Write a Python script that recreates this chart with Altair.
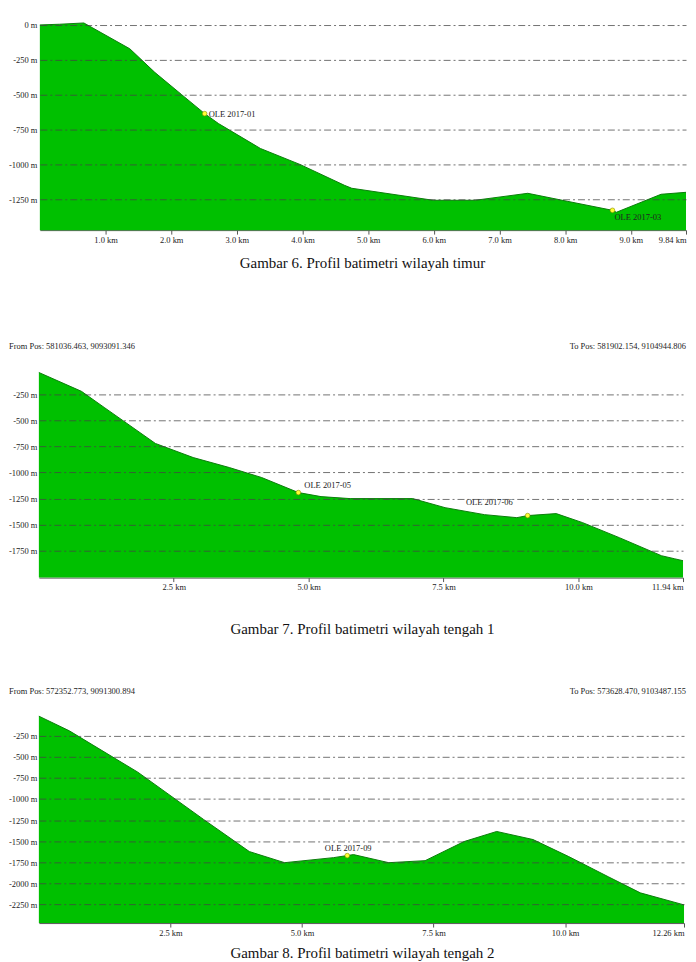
import altair as alt
import pandas as pd

# ---------------- data ----------------
# Panel 1 (Gambar 6) : distance (km), depth (m)
km1 = [0.0, 0.30, 0.67, 1.37, 1.75, 2.16, 2.51, 2.72, 3.36, 3.96, 4.64, 4.75, 5.99, 6.63, 7.43, 8.03, 8.72, 8.78, 9.46, 9.84]
m1 = [0, 5, 14, -171, -340, -500, -636, -707, -886, -1000, -1150, -1171, -1257, -1257, -1207, -1264, -1329, -1343, -1214, -1200]
mk1_name = ["OLE 2017-01", "OLE 2017-03"]
mk1_km = [2.51, 8.72]
mk1_m = [-636, -1329]

# Panel 2 (Gambar 7)
km2 = [0.0, 0.79, 1.21, 2.16, 2.86, 3.53, 4.13, 4.81, 5.23, 5.77, 6.93, 7.53, 8.26, 8.86, 9.06, 9.59, 10.08, 10.76, 11.54, 11.78, 11.94]
m2 = [-40, -221, -375, -721, -856, -952, -1048, -1192, -1231, -1250, -1250, -1337, -1404, -1433, -1413, -1394, -1481, -1625, -1798, -1827, -1846]
mk2_name = ["OLE 2017-05", "OLE 2017-06"]
mk2_km = [4.81, 9.06]
mk2_m = [-1192, -1413]

# Panel 3 (Gambar 8)
km3 = [0.0, 0.58, 1.88, 3.13, 4.00, 4.67, 5.60, 5.98, 6.65, 7.34, 8.08, 8.70, 9.39, 10.07, 10.82, 11.43, 12.26]
m3 = [-15, -190, -681, -1243, -1625, -1757, -1697, -1661, -1757, -1733, -1506, -1386, -1482, -1685, -1924, -2116, -2259]
mk3_name = ["OLE 2017-09"]
mk3_km = [5.86]
mk3_m = [-1673]

xticks1 = [1, 2, 3, 4, 5, 6, 7, 8, 9, 9.84]
xticks2 = [2.5, 5.0, 7.5, 10.0, 11.94]
xticks3 = [2.5, 5.0, 7.5, 10.0, 12.26]
yticks1 = [0, -250, -500, -750, -1000, -1250]
yticks2 = [-250, -500, -750, -1000, -1250, -1500, -1750]
yticks3 = [-250, -500, -750, -1000, -1250, -1500, -1750, -2000, -2250]

ydom1 = [-1471, 35]
ydom2 = [-2008, -21]
ydom3 = [-2475, -13]

from2 = "From Pos: 581036.463, 9093091.346"
to2 = "To Pos: 581902.154, 9104944.806"
from3 = "From Pos: 572352.773, 9091300.894"
to3 = "To Pos: 573628.470, 9103487.155"
captions = [
    "Gambar 6. Profil batimetri wilayah timur",
    "Gambar 7. Profil batimetri wilayah tengah 1",
    "Gambar 8. Profil batimetri wilayah tengah 2",
]

# ---------------- layout (view pixels) ----------------
W = 650
H = 907
FONT = "Liberation Serif"
GREEN = "#00c000"
LINE = "#0b7d0b"

p1_rng = [211, 0]
p2_rng = [560, 352]
p3_rng = [907, 699]


def panel(km, m, ydom, yrng, xmax, xrng, xticks, yticks, markers, label_styles):
    df = pd.DataFrame({"km": km, "m": m})
    xsc = alt.Scale(domain=[0, xmax], range=xrng, nice=False, zero=False)
    ysc = alt.Scale(domain=ydom, range=yrng, nice=False, zero=False)
    last = xticks[-1]
    xaxis = alt.Axis(
        orient="bottom", offset=yrng[0] - H, values=xticks, title=None,
        labelExpr=f"datum.value == {last} ? '{last} km' : format(datum.value, '.1f') + ' km'",
        grid=False, domainColor="#555", tickColor="#555", tickSize=4,
        labelFont=FONT, labelFontSize=8.5, labelColor="#222", labelPadding=1,
        labelOverlap=False,
    )
    yaxis = alt.Axis(
        orient="left", values=yticks, title=None, labelExpr="datum.value + ' m'",
        grid=True, gridDash=[7, 3, 2, 3], gridColor="#444", gridOpacity=0.75, gridWidth=1,
        domain=False, ticks=False, labelFont=FONT, labelFontSize=8.5, labelColor="#222",
        labelPadding=2, zindex=1,
    )
    area = alt.Chart(df).mark_area(
        color=GREEN, opacity=1, line={"color": LINE, "strokeWidth": 1}
    ).encode(
        x=alt.X("km:Q", scale=xsc, axis=xaxis),
        y=alt.Y("m:Q", scale=ysc, axis=yaxis),
        y2=alt.datum(ydom[0]),
    )
    mdf = pd.DataFrame({"km": markers[1], "m": markers[2], "name": markers[0]})
    pts = alt.Chart(mdf).mark_point(
        filled=True, fill="#ffff33", stroke="#888800", strokeWidth=0.6, size=22, opacity=1, shape="circle"
    ).encode(x="km:Q", y="m:Q")
    layers = [area, pts]
    for name, st in zip(markers[0], label_styles):
        t = alt.Chart(mdf).transform_filter(alt.datum.name == name).mark_text(
            font=FONT, fontSize=8.5, color="#222", baseline="middle", **st
        ).encode(x="km:Q", y="m:Q", text="name:N")
        layers.append(t)
    return alt.layer(*layers)


pan1 = panel(km1, m1, ydom1, p1_rng, 9.84, [1, W], xticks1, yticks1,
             (mk1_name, mk1_km, mk1_m),
             [dict(align="left", dx=4, dy=0), dict(align="left", dx=2, dy=7)])
pan2 = panel(km2, m2, ydom2, p2_rng, 11.94, [0, W - 3], xticks2, yticks2,
             (mk2_name, mk2_km, mk2_m),
             [dict(align="left", dx=6, dy=-8), dict(align="right", dx=-15, dy=-14)])
pan3 = panel(km3, m3, ydom3, p3_rng, 12.26, [0, W - 2], xticks3, yticks3,
             (mk3_name, mk3_km, mk3_m),
             [dict(align="center", dx=1, dy=-8)])


def free_text(txt, x, y, size, align, color="#222"):
    return alt.Chart(pd.DataFrame({"t": [txt]})).mark_text(
        font=FONT, fontSize=size, align=align, baseline="middle", color=color
    ).encode(x=alt.value(x), y=alt.value(y), text="t:N")


cap_x = 325
texts = [
    free_text(from2, -30, 327, 8.5, "left"),
    free_text(to2, W, 327, 8.5, "right"),
    free_text(from3, -30, 674, 8.5, "left"),
    free_text(to3, W, 674, 8.5, "right"),
    free_text(captions[0], cap_x, 244, 15, "center", "#111"),
    free_text(captions[1], cap_x, 612, 15, "center", "#111"),
    free_text(captions[2], cap_x, 937, 15, "center", "#111"),
]

chart = alt.layer(pan1, pan2, pan3, *texts).resolve_scale(
    x="independent", y="independent"
).resolve_axis(x="independent", y="independent").properties(
    width=W, height=H, padding={"left": 0, "top": 10, "right": 0, "bottom": 0},
    background="white",
).configure_view(stroke=None)

chart.save("out.html", embed_options={"renderer": "svg", "actions": False})
